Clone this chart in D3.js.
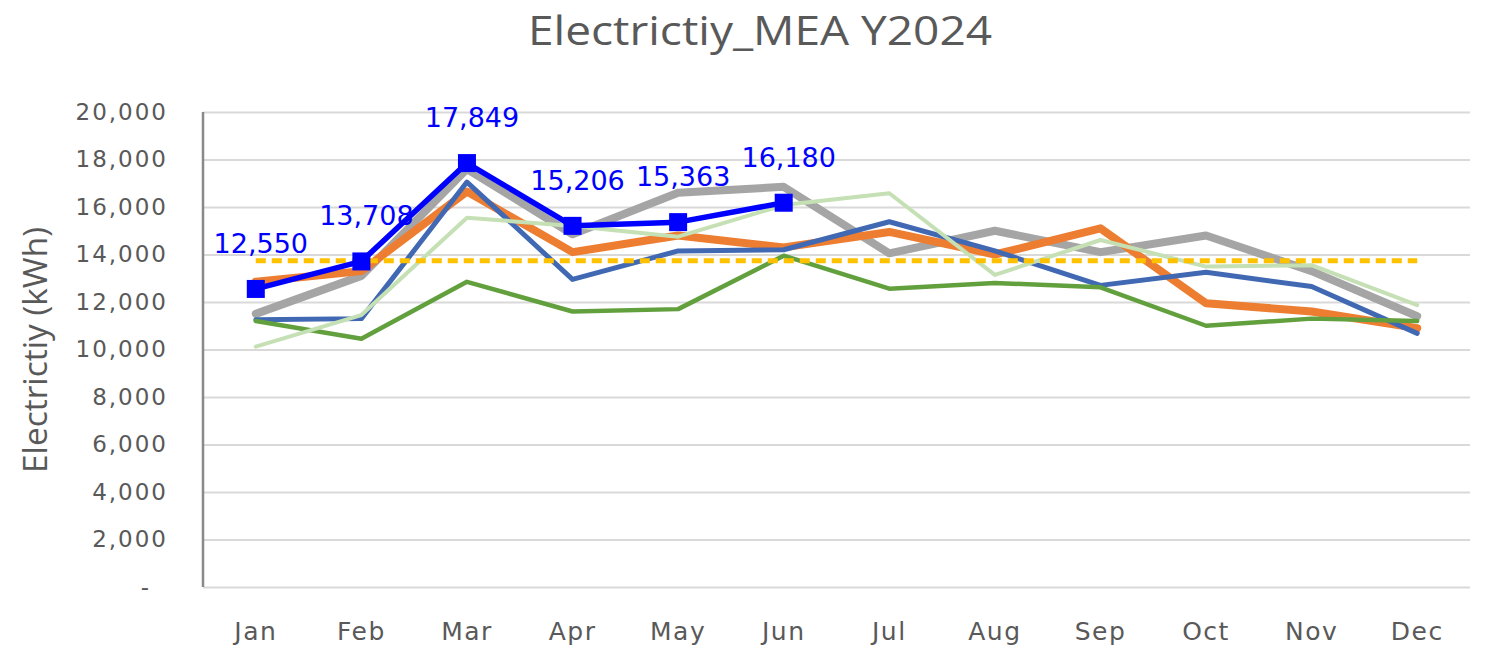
<!DOCTYPE html>
<html>
<head>
<meta charset="utf-8">
<script src="https://cdn.jsdelivr.net/npm/d3@7"></script>
<style>
  html, body { margin: 0; padding: 0; background: #ffffff; }
  svg { display: block; }
</style>
</head>
<body>
<svg id="chart" width="1486" height="648"></svg>
<script>
// ---- data ----
const months = ["Jan","Feb","Mar","Apr","May","Jun","Jul","Aug","Sep","Oct","Nov","Dec"];
const yTicks = [0,2000,4000,6000,8000,10000,12000,14000,16000,18000,20000];

const seriesGray       = [11500,13100,17600,14850,16600,16850,14050,15000,14100,14800,13300,11400];
const seriesOrange     = [12850,13300,16650,14100,14800,14300,14950,14000,15100,11950,11600,10900];
const seriesDarkBlue   = [11250,11300,17050,12950,14150,14200,15380,14150,12700,13250,12650,10680];
const seriesGreen      = [11200,10450,12850,11600,11700,13950,12560,12800,12620,11000,11300,11200];
const seriesLightGreen = [10120,11450,15550,15200,14750,16080,16580,13140,14610,13490,13550,11870];
const seriesAverage    = [13740,13740,13740,13740,13740,13740,13740,13740,13740,13740,13740,13740];
const series2024       = [12550,13708,17849,15206,15363,16180];

const title = "Electrictiy_MEA Y2024";
const yTitle = "Electrictiy (kWh)";

// ---- layout ----
const svg = d3.select("#chart");
const plotLeft = 203, plotRight = 1470, plotTop = 112, plotBottom = 587;
const textColor = "#595959";

const x = d3.scaleBand().domain(months).range([plotLeft, plotRight]);
const y = d3.scaleLinear().domain([0, 20000]).range([plotBottom, plotTop]);
const cx = m => x(m) + x.bandwidth() / 2;

// gridlines
const grid = svg.append("g").attr("transform", `translate(${plotLeft},0)`)
  .call(d3.axisLeft(y).tickValues(yTicks).tickSize(-(plotRight - plotLeft)).tickFormat(""));
grid.select(".domain").remove();
grid.selectAll("line").attr("stroke", "#d9d9d9").attr("stroke-width", 2);

// y axis labels
const yAxis = svg.append("g").attr("transform", `translate(${plotLeft},0)`)
  .call(d3.axisLeft(y).tickValues(yTicks).tickSize(0).tickPadding(35)
    .tickFormat(d => d === 0 ? "-" : d3.format(",")(d)));
yAxis.select(".domain").remove();
yAxis.selectAll("text")
  .attr("fill", textColor)
  .style("font-family", "'DejaVu Sans', sans-serif")
  .style("font-size", "23px")
  .style("letter-spacing", "2px");
yAxis.selectAll("text").filter(d => d === 0).attr("x", -52);

// left axis line
svg.append("line")
  .attr("x1", plotLeft).attr("x2", plotLeft)
  .attr("y1", y(20000)).attr("y2", y(0))
  .attr("stroke", "#898989").attr("stroke-width", 2.5);

// x axis labels
const xAxis = svg.append("g").attr("transform", `translate(0,${plotBottom})`)
  .call(d3.axisBottom(x).tickSize(0));
xAxis.select(".domain").remove();
xAxis.selectAll("text")
  .attr("fill", textColor)
  .attr("dy", null)
  .attr("y", 53)
  .style("font-family", "'DejaVu Sans', sans-serif")
  .style("font-size", "25px")
  .style("letter-spacing", "1.5px");

// lines
const line = d3.line().x((d, i) => cx(months[i])).y(d => y(d));

function drawLine(data, color, width, dash) {
  const p = svg.append("path")
    .datum(data)
    .attr("d", line)
    .attr("fill", "none")
    .attr("stroke", color)
    .attr("stroke-width", width)
    .attr("stroke-linejoin", "round")
    .attr("stroke-linecap", dash ? "butt" : "round");
  if (dash) p.attr("stroke-dasharray", dash);
  return p;
}

drawLine(seriesGray, "#a5a5a5", 8);
drawLine(seriesOrange, "#ed7d31", 8);
drawLine(seriesDarkBlue, "#4169b3", 5);
drawLine(seriesGreen, "#62a03e", 4.5);
drawLine(seriesLightGreen, "#c5e0b4", 4);
drawLine(seriesAverage, "#ffc000", 5, "10,6");
drawLine(series2024, "#0000ff", 5.5);

// markers
svg.append("g").selectAll("rect")
  .data(series2024)
  .join("rect")
  .attr("x", (d, i) => cx(months[i]) - 9)
  .attr("y", d => y(d) - 9)
  .attr("width", 18)
  .attr("height", 18)
  .attr("fill", "#0000ff");

// data labels
svg.append("g").selectAll("text")
  .data(series2024)
  .join("text")
  .attr("x", (d, i) => cx(months[i]) + 5)
  .attr("y", d => y(d) - 36)
  .attr("text-anchor", "middle")
  .attr("fill", "#0000ff")
  .style("font-family", "'DejaVu Sans', sans-serif")
  .style("font-size", "27px")
  .text(d => d3.format(",")(d));

// title
svg.append("text")
  .attr("x", 760).attr("y", 45)
  .attr("text-anchor", "middle")
  .attr("fill", textColor)
  .attr("textLength", 464)
  .attr("lengthAdjust", "spacingAndGlyphs")
  .style("font-family", "'Open Sans', sans-serif")
  .style("font-size", "40px")
  .text(title);

// y axis title
svg.append("text")
  .attr("transform", "translate(47,350) rotate(-90)")
  .attr("text-anchor", "middle")
  .attr("fill", textColor)
  .attr("textLength", 246)
  .attr("lengthAdjust", "spacingAndGlyphs")
  .style("font-family", "'Open Sans', sans-serif")
  .style("font-size", "32px")
  .text(yTitle);
</script>
</body>
</html>
